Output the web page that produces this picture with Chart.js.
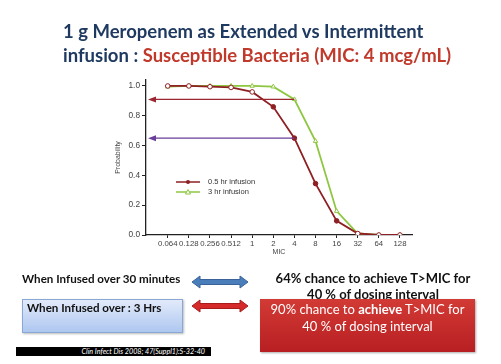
<!DOCTYPE html>
<html>
<head>
<meta charset="utf-8">
<script src="https://cdn.jsdelivr.net/npm/chart.js@4"></script>
<style>
  body { margin: 0; width: 501px; height: 364px; background: #fff; position: relative; overflow: hidden; font-family: Lato, "Open Sans", sans-serif; }
  #c { position: absolute; left: 0; top: 0; }
  .abs { position: absolute; white-space: nowrap; }
  .title { left: 63px; font-weight: bold; font-size: 18.5px; color: #1f3a60; line-height: 24px; }
  .red { color: #c0392b; }
  .lbl { font-weight: bold; font-size: 11.6px; color: #111; }
  .center { text-align: center; }
</style>
</head>
<body>
<canvas id="c" width="501" height="364"></canvas>

<div class="abs title" style="top:19px">1 g Meropenem as Extended vs Intermittent</div>
<div class="abs title" style="top:43px">infusion : <span class="red">Susceptible Bacteria (MIC: 4 mcg/mL)</span></div>

<div class="abs lbl" style="left:22px; top:272px">When Infused over 30 minutes</div>
<svg class="abs" style="left:191px; top:275px" width="58" height="14">
  <polygon points="1,7 9,1 9,4.5 49,4.5 49,1 57,7 49,13 49,9.5 9,9.5 9,13" fill="#4a7ebb" stroke="#3a6399" stroke-width="1"/>
</svg>
<div class="abs center" style="left:260px; width:226px; top:270px; font-weight:bold; font-size:13px; line-height:16px; color:#111">64% chance to achieve T&gt;MIC for<br>40 % of dosing interval</div>

<div class="abs" style="left:22px; top:299px; width:159px; height:32px; border:1px solid #8aa8d6; background:linear-gradient(#e2eafa,#aec7f0); box-shadow:1px 1px 2px #bbb"></div>
<div class="abs lbl" style="left:27px; top:301px">When Infused over : 3 Hrs</div>
<svg class="abs" style="left:191px; top:299px" width="58" height="14">
  <polygon points="1,7 9,1 9,4.5 49,4.5 49,1 57,7 49,13 49,9.5 9,9.5 9,13" fill="#d42a2a" stroke="#a81c1c" stroke-width="1"/>
</svg>
<div class="abs center" style="left:260px; top:299px; width:215px; height:53px; background:linear-gradient(#d23a35,#b81f22); box-shadow:1px 1px 2px #aaa; color:#fff; font-size:13px; line-height:17px; padding-top:2px; box-sizing:border-box">90% chance to <b>achieve</b> T&gt;MIC for<br>40 % of dosing interval</div>

<div class="abs" style="left:16px; top:347px; width:195px; height:9px; background:#000; color:#fff; font-style:italic; font-size:7.2px; line-height:9px; text-align:right; padding-right:6px; box-sizing:border-box">Clin Infect Dis 2008; 47(Suppl1):S-32-40</div>

<script>
const micLabels = ['0.064', '0.128', '0.256', '0.512', '1', '2', '4', '8', '16', '32', '64', '128'];
const halfHour = [1.0, 1.0, 0.995, 0.99, 0.96, 0.86, 0.65, 0.345, 0.095, 0.01, 0.0, 0.0];
const threeHour = [0.995, 1.0, 1.0, 1.0, 1.0, 0.995, 0.91, 0.63, 0.16, 0.01, 0.0, 0.0];
const halfHourFilled = [false, false, false, false, false, true, true, true, true, false, false, false];
const yTicks = [0, 0.2, 0.4, 0.6, 0.8, 1.0];
// target-attainment arrows: probability value, drawn from MIC = 4 back to the y axis
const arrowValues = [0.91, 0.65];
const arrowColors = ['#9b2530', '#6a3d9a'];
const arrowFromMic = '4';

const redLine = '#8e1f22';
const greenLine = '#8dc63f';
const axisFont = '"Liberation Sans", Arial, sans-serif';

const arrowsPlugin = {
  id: 'arrows',
  afterDatasetsDraw(chart) {
    const ctx = chart.ctx;
    const x = chart.scales.x, y = chart.scales.y;
    const x0 = x.getPixelForValue(micLabels.indexOf(arrowFromMic));
    const x1 = chart.chartArea.left + 2;
    arrowValues.forEach((v, i) => {
      const py = y.getPixelForValue(v);
      ctx.save();
      ctx.strokeStyle = arrowColors[i];
      ctx.fillStyle = arrowColors[i];
      ctx.lineWidth = 1.3;
      ctx.beginPath();
      ctx.moveTo(x0, py);
      ctx.lineTo(x1 + 6, py);
      ctx.stroke();
      ctx.beginPath();
      ctx.moveTo(x1, py);
      ctx.lineTo(x1 + 8, py - 3);
      ctx.lineTo(x1 + 8, py + 3);
      ctx.closePath();
      ctx.fill();
      ctx.restore();
    });
  }
};

const legendPlugin = {
  id: 'innerLegend',
  afterDraw(chart) {
    const ctx = chart.ctx;
    const items = chart.data.datasets;
    ctx.save();
    ctx.font = '7.5px ' + axisFont;
    ctx.textBaseline = 'middle';
    items.forEach((ds, i) => {
      const ly = 182 + i * 10;
      ctx.strokeStyle = ds.borderColor;
      ctx.lineWidth = 1.5;
      ctx.beginPath();
      ctx.moveTo(176, ly);
      ctx.lineTo(200, ly);
      ctx.stroke();
      ctx.beginPath();
      if (i === 0) {
        ctx.fillStyle = ds.borderColor;
        ctx.arc(188, ly, 2, 0, Math.PI * 2);
        ctx.fill();
      } else {
        ctx.fillStyle = '#fff';
        ctx.moveTo(188, ly - 2.5);
        ctx.lineTo(190.5, ly + 2);
        ctx.lineTo(185.5, ly + 2);
        ctx.closePath();
        ctx.fill();
        ctx.lineWidth = 1;
        ctx.stroke();
      }
      ctx.fillStyle = '#333';
      ctx.fillText(ds.label, 208, ly);
    });
    ctx.restore();
  }
};

const points = (vals) => vals.map((v, i) => ({ x: i, y: v }));

new Chart(document.getElementById('c'), {
  type: 'line',
  data: {
    datasets: [
      {
        label: '0.5 hr infusion',
        data: points(halfHour),
        borderColor: redLine,
        borderWidth: 1.8,
        pointStyle: 'circle',
        pointRadius: 2.3,
        pointBorderWidth: 1,
        pointBorderColor: redLine,
        pointBackgroundColor: halfHourFilled.map(f => f ? redLine : '#fff'),
        tension: 0,
        order: 1
      },
      {
        label: '3 hr infusion',
        data: points(threeHour),
        borderColor: greenLine,
        borderWidth: 1.8,
        pointStyle: 'triangle',
        pointRadius: 2.5,
        pointBorderWidth: 1,
        pointBorderColor: greenLine,
        pointBackgroundColor: '#fff',
        tension: 0,
        order: 2
      }
    ]
  },
  options: {
    responsive: false,
    animation: false,
    layout: { padding: { left: 112, right: 89, top: 80, bottom: 104 } },
    plugins: { legend: { display: false }, tooltip: { enabled: false } },
    scales: {
      x: {
        type: 'linear',
        min: -1.03,
        max: 11.57,
        afterBuildTicks: (s) => { s.ticks = micLabels.map((_, i) => ({ value: i })); },
        afterFit: (s) => { s.height = 25; },
        grid: { drawOnChartArea: false, tickLength: 3, color: '#222' },
        border: { color: '#222', width: 1.3 },
        ticks: {
          autoSkip: false,
          maxRotation: 0,
          padding: 1,
          color: '#444',
          font: { size: 7.8, family: axisFont },
          callback: (v) => micLabels[v]
        },
        title: { display: true, text: 'MIC', color: '#444', padding: { top: 0, bottom: 4 }, font: { size: 7, family: axisFont } }
      },
      y: {
        min: 0,
        max: 1.04,
        afterBuildTicks: (s) => { s.ticks = yTicks.map(v => ({ value: v })); },
        afterFit: (s) => { s.width = 34; },
        grid: { drawOnChartArea: false, tickLength: 4, color: '#222' },
        border: { color: '#222', width: 1.3 },
        ticks: {
          padding: 2,
          color: '#444',
          font: { size: 8.3, family: axisFont },
          callback: (v) => v.toFixed(1)
        },
        title: { display: true, text: 'Probability', color: '#444', padding: { top: 2, bottom: 0 }, font: { size: 7, family: axisFont } }
      }
    }
  },
  plugins: [arrowsPlugin, legendPlugin]
});
</script>
</body>
</html>
